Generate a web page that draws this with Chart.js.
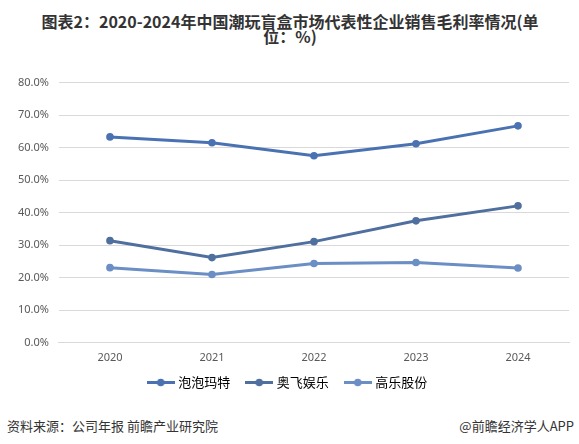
<!DOCTYPE html>
<html>
<head>
<meta charset="utf-8">
<script src="https://cdn.jsdelivr.net/npm/chart.js@4"></script>
<style>
  html, body { margin: 0; padding: 0; background: #fff; width: 579px; height: 444px; overflow: hidden; }
  #title { position: absolute; left: 10px; top: 14px; width: 560px; text-align: center; font-family: "Noto Sans CJK SC", sans-serif; font-weight: bold; font-size: 16px; line-height: 15px; color: #333; }
  #wrap { position: absolute; left: 0; top: 66px; width: 579px; height: 347px; }
  #src { position: absolute; left: 7px; top: 416px; font-family: "Noto Sans CJK SC", sans-serif; font-size: 13px; color: #333; }
  #app { position: absolute; right: 5px; top: 416px; font-family: "Noto Sans CJK SC", sans-serif; font-size: 13px; color: #333; }
</style>
</head>
<body>
<div id="title">图表2：2020-2024年中国潮玩盲盒市场代表性企业销售毛利率情况(单<br>位：%)</div>
<div id="wrap"><canvas id="c"></canvas></div>
<div id="src">资料来源：公司年报 前瞻产业研究院</div>
<div id="app">@前瞻经济学人APP</div>
<script>
const years = ['2020', '2021', '2022', '2023', '2024'];
const popMart = [63.3, 61.5, 57.5, 61.2, 66.7];
const alphaGroup = [31.4, 26.2, 31.1, 37.5, 42.1];
const gaoLe = [23.1, 21.0, 24.4, 24.7, 23.0];
const seriesNames = ['泡泡玛特', '奥飞娱乐', '高乐股份'];
const yTicks = [0, 10, 20, 30, 40, 50, 60, 70, 80];

const colors = ['#4a72b2', '#4f6f9f', '#6b8ec4'];
const data = [popMart, alphaGroup, gaoLe];

function legendIcon(color) {
  const cv = document.createElement('canvas');
  cv.width = 28; cv.height = 9;
  const g = cv.getContext('2d');
  g.strokeStyle = color; g.lineWidth = 3;
  g.beginPath(); g.moveTo(0, 4.5); g.lineTo(28, 4.5); g.stroke();
  g.fillStyle = color;
  g.beginPath(); g.arc(14, 4.5, 3.8, 0, Math.PI * 2); g.fill();
  return cv;
}
const icons = colors.map(legendIcon);

const legendShift = {
  id: 'legendShift',
  afterLayout(chart) {
    const lg = chart.legend;
    if (lg) { lg.top -= 14; lg.bottom -= 14; }
  }
};

new Chart(document.getElementById('c'), {
  type: 'line',
  data: {
    labels: years,
    datasets: seriesNames.map((n, i) => ({
      label: n,
      data: data[i],
      borderColor: colors[i],
      backgroundColor: colors[i],
      borderWidth: 3,
      pointRadius: 3.8,
      pointHoverRadius: 3.8,
      pointBorderWidth: 0,
      tension: 0
    }))
  },
  plugins: [legendShift],
  options: {
    responsive: true,
    maintainAspectRatio: false,
    animation: false,
    layout: { padding: { left: 8, right: 10, top: 14, bottom: 0 } },
    plugins: {
      legend: {
        position: 'bottom',
        labels: {
          font: { family: '"Noto Sans CJK SC", sans-serif', size: 13 },
          color: '#333',
          usePointStyle: true,
          pointStyleWidth: 22,
          padding: 18,
          generateLabels(chart) {
            return chart.data.datasets.map((ds, i) => ({
              text: ds.label,
              fillStyle: ds.borderColor,
              strokeStyle: ds.borderColor,
              lineWidth: 0,
              pointStyle: icons[i],
              datasetIndex: i
            }));
          }
        }
      },
      tooltip: { enabled: false }
    },
    scales: {
      x: {
        offset: true,
        grid: { display: false, drawTicks: false },
        border: { color: '#d9d9d9' },
        ticks: { color: '#595959', font: { family: '"Noto Sans", sans-serif', size: 11 }, padding: 8 }
      },
      y: {
        min: 0, max: 80,
        afterBuildTicks(axis) { axis.ticks = yTicks.map(v => ({ value: v })); },
        grid: { color: '#d9d9d9', drawTicks: false },
        border: { display: false },
        ticks: {
          color: '#595959',
          font: { family: '"Noto Sans", sans-serif', size: 11 },
          padding: 10,
          callback: v => v.toFixed(1) + '%'
        }
      }
    }
  }
});
</script>
</body>
</html>
